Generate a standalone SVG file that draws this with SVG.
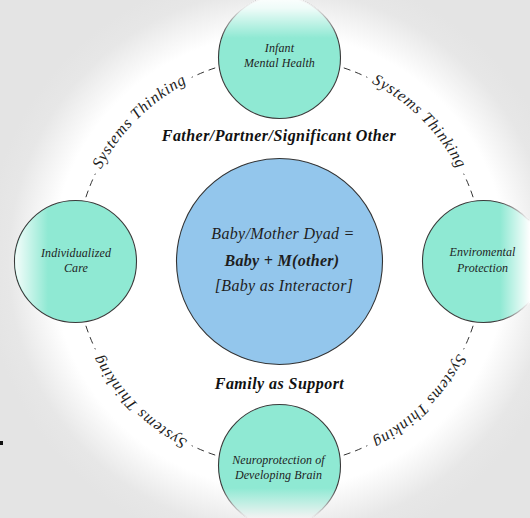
<svg xmlns="http://www.w3.org/2000/svg" xmlns:xlink="http://www.w3.org/1999/xlink" width="530" height="518" viewBox="0 0 530 518" font-family="Liberation Serif, DejaVu Serif, serif">
<defs>
<radialGradient id="glow" gradientUnits="userSpaceOnUse" cx="279.5" cy="261.5" r="295">
<stop offset="0" stop-color="#ffffff"/>
<stop offset="0.77" stop-color="#ffffff"/>
<stop offset="0.92" stop-color="#e7e7e7"/>
<stop offset="1" stop-color="#e4e4e4"/>
</radialGradient>
<linearGradient id="fadeTop" gradientUnits="userSpaceOnUse" x1="0" y1="-4" x2="0" y2="38">
<stop offset="0" stop-color="#fff" stop-opacity="1"/>
<stop offset="0.3" stop-color="#fff" stop-opacity="0.85"/>
<stop offset="1" stop-color="#fff" stop-opacity="0"/>
</linearGradient>
<linearGradient id="fadeLeft" gradientUnits="userSpaceOnUse" x1="15" y1="0" x2="48" y2="0">
<stop offset="0" stop-color="#fff" stop-opacity="0.9"/>
<stop offset="1" stop-color="#fff" stop-opacity="0"/>
</linearGradient>
<linearGradient id="fadeRight" gradientUnits="userSpaceOnUse" x1="500" y1="0" x2="530" y2="0">
<stop offset="0" stop-color="#fff" stop-opacity="0"/>
<stop offset="1" stop-color="#fff" stop-opacity="1"/>
</linearGradient>
<linearGradient id="fadeBottom" gradientUnits="userSpaceOnUse" x1="0" y1="488" x2="0" y2="518">
<stop offset="0" stop-color="#f6f6f6" stop-opacity="0"/>
<stop offset="1" stop-color="#f2f2f2" stop-opacity="1"/>
</linearGradient>
<clipPath id="cTop"><circle cx="279.5" cy="57.5" r="62"/></clipPath>
<clipPath id="cLeft"><circle cx="75.5" cy="261.5" r="60.4"/></clipPath>
<clipPath id="cRight"><circle cx="483.5" cy="261.5" r="62"/></clipPath>
<clipPath id="cBottom"><circle cx="279.5" cy="465.5" r="62"/></clipPath>
<path id="orbit" d="M 75.5 261.5 A 204 204 0 1 1 483.5 261.5 A 204 204 0 1 1 75.5 261.5"/>
<style>
.node{fill:#8fe9d3;stroke:#3a3a3a;stroke-width:1.1}
.hub{fill:#93c6ec;stroke:#333;stroke-width:1.1}
text{font-family:'Liberation Serif','DejaVu Serif',serif;font-style:italic}
.nt{font-size:12px;fill:#1e1e1e;text-anchor:middle;letter-spacing:0.1px}
.ct{font-size:16px;fill:#1e1e1e;text-anchor:middle;letter-spacing:0.3px}
.bt{font-weight:bold;font-size:16px;fill:#111;text-anchor:middle;letter-spacing:0.45px}
.dash{fill:none;stroke:#333;stroke-width:1;stroke-dasharray:7 5}
.st{font-size:16px;fill:#1e1e1e;letter-spacing:0.9px}
</style>
</defs>
<rect x="0" y="0" width="530" height="518" fill="#e4e4e4"/>
<rect x="0" y="0" width="530" height="518" fill="url(#glow)"/>
<rect x="0" y="441" width="3" height="4" fill="#111"/>
<g id="connectors">
<path class="dash" d="M 82.45 208.7 A 204 204 0 0 1 95.37 173.68"/>
<path class="dash" d="M 226.7 64.45 A 204 204 0 0 0 191.68 77.37"/>
<path class="dash" d="M 332.3 64.45 A 204 204 0 0 1 367.32 77.37"/>
<path class="dash" d="M 476.55 208.7 A 204 204 0 0 0 463.63 173.68"/>
<path class="dash" d="M 476.55 314.3 A 204 204 0 0 1 463.63 349.32"/>
<path class="dash" d="M 332.3 458.55 A 204 204 0 0 0 367.32 445.63"/>
<path class="dash" d="M 226.7 458.55 A 204 204 0 0 1 191.68 445.63"/>
<path class="dash" d="M 82.45 314.3 A 204 204 0 0 0 95.37 349.32"/>
<text class="st" dy="3"><textPath xlink:href="#orbit" href="#orbit" startOffset="12.5%" text-anchor="middle">Systems Thinking</textPath></text>
<text class="st" dy="3"><textPath xlink:href="#orbit" href="#orbit" startOffset="37.5%" text-anchor="middle">Systems Thinking</textPath></text>
<text class="st" dy="3"><textPath xlink:href="#orbit" href="#orbit" startOffset="62.5%" text-anchor="middle">Systems Thinking</textPath></text>
<text class="st" dy="3"><textPath xlink:href="#orbit" href="#orbit" startOffset="87.5%" text-anchor="middle">Systems Thinking</textPath></text>
</g>
<g id="node-hub">
<circle class="hub" cx="279.5" cy="261.5" r="103"/>
<text class="ct" x="283" y="239">Baby/Mother Dyad =</text>
<text class="ct" x="282" y="265.5" font-weight="bold">Baby + M(other)</text>
<text class="ct" x="284" y="291">[Baby as Interactor]</text>
</g>
<g id="label-father">
<text class="bt" x="279" y="141">Father/Partner/Significant Other</text>
</g>
<g id="label-family">
<text class="bt" x="279.5" y="389">Family as Support</text>
</g>
<g id="node-top">
<circle class="node" cx="279.5" cy="57.5" r="61"/>
<rect x="210" y="-10" width="140" height="60" fill="url(#fadeTop)" clip-path="url(#cTop)"/>
<text class="nt" x="279.5" y="52">Infant</text>
<text class="nt" x="279.5" y="67">Mental Health</text>
</g>
<g id="node-left">
<circle class="node" cx="75.5" cy="261.5" r="61"/>
<rect x="10" y="195" width="50" height="135" fill="url(#fadeLeft)" clip-path="url(#cLeft)"/>
<text class="nt" x="76" y="256.5">Individualized</text>
<text class="nt" x="76" y="271.5">Care</text>
</g>
<g id="node-right">
<circle class="node" cx="483.5" cy="261.5" r="61"/>
<rect x="495" y="195" width="50" height="135" fill="url(#fadeRight)" clip-path="url(#cRight)"/>
<text class="nt" x="482.5" y="255.5">Enviromental</text>
<text class="nt" x="482.5" y="271.5">Protection</text>
</g>
<g id="node-bottom">
<circle class="node" cx="279.5" cy="465.5" r="61"/>
<rect x="210" y="480" width="140" height="50" fill="url(#fadeBottom)" clip-path="url(#cBottom)"/>
<text class="nt" x="278.5" y="463.5">Neuroprotection of</text>
<text class="nt" x="278.5" y="479">Developing Brain</text>
</g>
</svg>
